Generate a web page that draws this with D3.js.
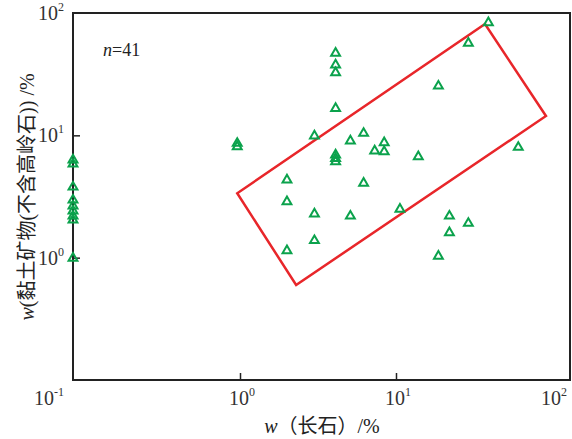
<!DOCTYPE html>
<html><head><meta charset="utf-8">
<script src="https://cdn.jsdelivr.net/npm/d3@7"></script>
<style>body{margin:0;background:#fff}</style></head>
<body><svg id="c" width="572" height="439"></svg>
<script>
// data
const feldspar = [0.085,0.085,0.085,0.085,0.085,0.085,0.085,0.085,0.085,
  0.96,0.96,3.0,4.1,4.1,4.1,4.1,4.1,4.1,4.1,5.1,6.2,8.4,7.3,8.4,13.9,39.1,29.1,18.7,60.8,
  2.0,6.2,2.0,3.0,5.1,10.6,3.0,2.0,22.0,29.1,22.0,18.7];
const clay = [6.29,5.83,3.78,2.96,2.65,2.41,2.19,2.03,0.99,
  8.61,8.08,9.9,46.9,37.6,32.5,16.6,6.91,6.47,6.09,9.0,10.4,8.71,7.45,7.35,6.69,83.4,56.6,25.3,7.99,
  4.32,4.06,2.87,2.28,2.19,2.49,1.38,1.14,2.19,1.91,1.60,1.03];
const boxFeldspar = [0.96, 2.29, 91.5, 37.2];
const boxClay = [3.36, 0.598, 14.4, 81.3];
const xTickVals = [1, 10];
const xLabelVals = [1, 10, 100];
const xLabelExps = ["0", "1", "2"];
const yTickVals = [1, 10];
const yLabelVals = [0.1, 1, 10, 100];
const yLabelExps = ["-1", "0", "1", "2"];
const nText = "41";

const svg = d3.select("#c");
const serif = "'Liberation Serif','Noto Sans CJK SC',serif";
const x = d3.scaleLog().domain([0.085, 132.4]).range([73, 571]);
const y = d3.scaleLog().domain([0.1, 100]).range([380, 13]);
const [x0, x1] = x.range(), [y0, y1] = y.range();

svg.append("rect").attr("width",572).attr("height",439).attr("fill","#fff");

// ticks
svg.append("g").attr("transform",`translate(0,${y0})`)
  .call(d3.axisBottom(x).tickValues(xTickVals).tickSize(-7).tickFormat(""))
  .call(g=>g.select(".domain").remove())
  .selectAll("line").attr("stroke","#222").attr("stroke-width",1.5);
svg.append("g").attr("transform",`translate(${x0},0)`)
  .call(d3.axisLeft(y).tickValues(yTickVals).tickSize(-7).tickFormat(""))
  .call(g=>g.select(".domain").remove())
  .selectAll("line").attr("stroke","#222").attr("stroke-width",1.5);

// frame
svg.append("rect").attr("x",x0).attr("y",y1).attr("width",x1-x0-1).attr("height",y0-y1)
  .attr("fill","none").attr("stroke","#222").attr("stroke-width",2);

function pow(t, e){
  t.append("tspan").text("10");
  t.append("tspan").attr("dy",-9).attr("font-size",12).text(e);
}
// x labels
xLabelVals.forEach((v,i)=>{
  const t = svg.append("text").attr("x",x(v)+2).attr("y",405)
    .attr("text-anchor","middle").attr("font-family",serif).attr("font-size",20).attr("fill","#333");
  pow(t, xLabelExps[i]);
});
// y labels
yLabelVals.forEach((v,i)=>{
  const off = v === 0.1 ? 25 : 7;
  const t = svg.append("text").attr("x",64).attr("y",y(v)+off)
    .attr("text-anchor","end").attr("font-family",serif).attr("font-size",20).attr("fill","#333");
  pow(t, yLabelExps[i]);
});

// box
const boxPts = boxFeldspar.map((v,i)=>[x(v), y(boxClay[i])]);
svg.append("path").attr("d", d3.line()(boxPts)+"Z")
  .attr("fill","none").attr("stroke","#e8262a").attr("stroke-width",2.5);

// points
const sym = d3.symbol(d3.symbolTriangle, 34);
svg.append("g").selectAll("path").data(feldspar).join("path")
  .attr("transform",(d,i)=>`translate(${x(d)},${y(clay[i])})`)
  .attr("d", sym).attr("fill","none").attr("stroke","#0ba24c").attr("stroke-width",2);

// n label
const nt = svg.append("text").attr("x",103).attr("y",56).attr("font-family",serif).attr("font-size",18).attr("fill","#222");
nt.append("tspan").attr("font-style","italic").text("n");
nt.append("tspan").text("="+nText);

// axis titles
const xt = svg.append("text").attr("x",322).attr("y",433).attr("text-anchor","middle")
  .attr("font-family",serif).attr("font-size",20).attr("fill","#222");
xt.append("tspan").attr("font-style","italic").text("w");
xt.append("tspan").text("（长石）/%");

const yt = svg.append("text").attr("transform","translate(34,197) rotate(-90)").attr("text-anchor","middle")
  .attr("font-family",serif).attr("font-size",20).attr("fill","#222");
yt.append("tspan").attr("font-style","italic").text("w");
yt.append("tspan").text("(黏土矿物(不含高岭石)) /%");
</script></body></html>
